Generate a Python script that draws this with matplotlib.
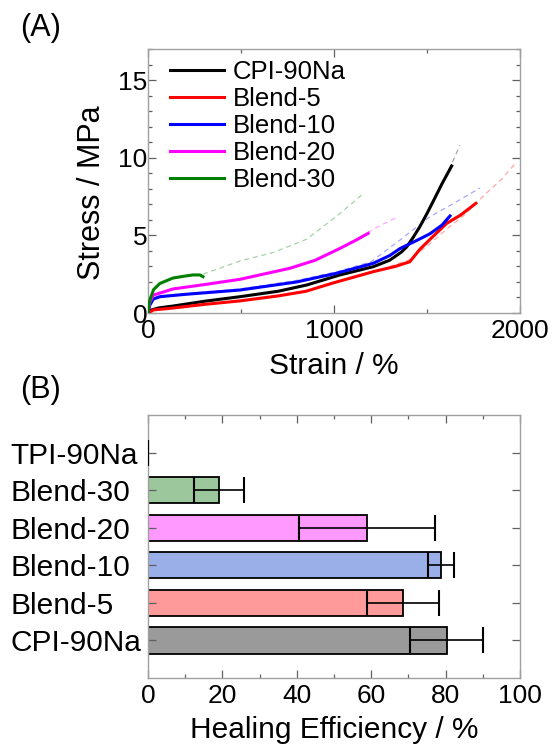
import matplotlib
matplotlib.use("Agg")
import matplotlib.pyplot as plt
from matplotlib.ticker import MultipleLocator
import numpy as np

plt.rcParams['font.family'] = ['Liberation Sans', 'DejaVu Sans']

# ---------------- Panel A data: stress-strain curves ----------------
series_names = ["CPI-90Na", "Blend-5", "Blend-10", "Blend-20", "Blend-30"]
series_colors = ["#000000", "#ff0000", "#0000ff", "#ff00ff", "#008000"]

cpi_strain = [0, 20, 60, 136, 300, 495, 700, 853, 1032, 1211, 1300, 1360, 1391, 1425, 1462, 1500, 1534, 1580, 1633]
cpi_stress = [0, 0.2, 0.33, 0.45, 0.75, 1.05, 1.4, 1.8, 2.45, 2.98, 3.4, 3.9, 4.25, 4.85, 5.56, 6.4, 7.2, 8.3, 9.47]
b5_strain = [0, 30, 135, 300, 495, 700, 850, 1000, 1211, 1330, 1408, 1462, 1530, 1606, 1680, 1763]
b5_stress = [0, 0.2, 0.32, 0.55, 0.78, 1.1, 1.4, 1.95, 2.66, 3.0, 3.3, 4.1, 4.9, 5.77, 6.3, 7.06]
b10_strain = [0, 10, 29, 65, 200, 495, 800, 1014, 1211, 1300, 1355, 1450, 1516, 1580, 1624]
b10_stress = [0, 0.5, 0.9, 1.05, 1.2, 1.48, 2.0, 2.56, 3.2, 3.7, 4.15, 4.7, 5.1, 5.65, 6.25]
b20_strain = [0, 10, 29, 135, 315, 495, 763, 900, 1032, 1120, 1184]
b20_stress = [0, 0.7, 1.15, 1.55, 1.85, 2.17, 2.88, 3.4, 4.16, 4.7, 5.13]
b30_strain = [0, 5, 11, 30, 64, 134, 200, 242, 280, 296]
b30_stress = [0, 0.5, 0.84, 1.5, 1.9, 2.25, 2.38, 2.45, 2.45, 2.34]

# dashed (reference / original) curves
cpi_d_strain = [1391, 1462, 1534, 1580, 1633, 1677]
cpi_d_stress = [4.27, 5.56, 7.28, 8.3, 9.6, 10.8]
b5_d_strain = [1300, 1400, 1500, 1606, 1700, 1800, 1900, 1980]
b5_d_stress = [3.0, 3.4, 4.3, 5.4, 6.3, 7.5, 8.6, 9.7]
b10_d_strain = [0, 10, 29, 65, 200, 495, 800, 1014, 1200, 1355, 1516, 1650, 1785]
b10_d_stress = [0, 0.55, 0.95, 1.1, 1.25, 1.55, 2.1, 2.65, 3.3, 4.7, 6.2, 7.1, 8.05]
b20_d_strain = [1100, 1184, 1260, 1346]
b20_d_stress = [4.6, 5.2, 5.7, 6.2]
b30_d_strain = [296, 495, 674, 853, 1032, 1149]
b30_d_stress = [2.5, 3.35, 3.9, 4.75, 6.4, 7.6]

solid = [(cpi_strain, cpi_stress), (b5_strain, b5_stress), (b10_strain, b10_stress),
         (b20_strain, b20_stress), (b30_strain, b30_stress)]
dashed = [(cpi_d_strain, cpi_d_stress), (b5_d_strain, b5_d_stress), (b10_d_strain, b10_d_stress),
          (b20_d_strain, b20_d_stress), (b30_d_strain, b30_d_stress)]

# ---------------- Panel B data: healing efficiency ----------------
categories = ["CPI-90Na", "Blend-5", "Blend-10", "Blend-20", "Blend-30", "TPI-90Na"]
efficiency = [80.3, 68.6, 78.9, 58.9, 19.2, 0.0]
eff_error = [9.8, 9.6, 3.5, 18.3, 6.7, 0.0]
bar_colors = ["#9a9a9a", "#ff9a9a", "#9aaee8", "#ff99ff", "#9cc69c", "#ffffff"]

TICK_FS = 19
LABEL_FS = 21.5
LEG_FS = 18.5
SPINE = "#a0a0a0"

fig = plt.figure(figsize=(5.54, 7.44), dpi=100)

# ---- Panel A ----
axA = fig.add_axes([0.267, 0.5793, 0.6715, 0.3548])
for (xd, yd), c in zip(dashed, series_colors):
    axA.plot(xd, yd, color=c, lw=0.9, ls=(0, (4, 3)), alpha=0.35, zorder=2)
for (xs, ys), c, n in zip(solid, series_colors, series_names):
    axA.plot(xs, ys, color=c, lw=2.2, label=n, zorder=3)

axA.set_xlim(0, 2000)
axA.set_ylim(0, 17)
axA.xaxis.set_major_locator(MultipleLocator(1000))
axA.xaxis.set_minor_locator(MultipleLocator(500))
axA.yaxis.set_major_locator(MultipleLocator(5))
axA.yaxis.set_minor_locator(MultipleLocator(1))
axA.set_xlabel("Strain / %", fontsize=LABEL_FS, labelpad=7)
axA.set_ylabel("Stress / MPa", fontsize=22, labelpad=8)
axA.yaxis.label.set_y(0.455)
leg = axA.legend(loc="upper left", bbox_to_anchor=(0.06, 0.96), frameon=False,
                 fontsize=LEG_FS, handlelength=2.1, handletextpad=0.35,
                 labelspacing=0.12, borderpad=0, borderaxespad=0)

# ---- Panel B ----
axB = fig.add_axes([0.267, 0.0887, 0.6715, 0.3535])
ypos = np.arange(len(categories))
axB.barh(ypos, efficiency, height=0.7, color=bar_colors, edgecolor="black",
         linewidth=1.3, zorder=1)
axB.errorbar(efficiency, ypos, xerr=eff_error, fmt="none", ecolor="black",
             elinewidth=1.2, capsize=9.4, capthick=1.5, zorder=4)
axB.set_xlim(0, 100)
axB.set_ylim(-1, 6)
axB.set_yticks(ypos)
axB.set_yticklabels(categories, fontsize=LABEL_FS, ha="left")
axB.xaxis.set_major_locator(MultipleLocator(20))
axB.xaxis.set_minor_locator(MultipleLocator(10))
axB.set_xlabel("Healing Efficiency / %", fontsize=LABEL_FS, labelpad=6)

for ax in (axA, axB):
    for s in ax.spines.values():
        s.set_color(SPINE)
        s.set_linewidth(1.0)
    ax.tick_params(which="both", direction="in", top=True, right=True,
                   color="#606060", width=0.9)
    ax.tick_params(axis="x", labelsize=TICK_FS)
    ax.tick_params(which="major", length=6, pad=4)
    ax.tick_params(which="minor", length=3)
axA.tick_params(axis="y", labelsize=TICK_FS, pad=0.5)
# left-aligned category labels starting ~10 px from the figure edge
axB.tick_params(axis="y", which="major", length=6, pad=99)

fig.text(0.036, 0.962, "(A)", fontsize=22, va="center", ha="left")
fig.text(0.036, 0.476, "(B)", fontsize=22, va="center", ha="left")

fig.savefig("out.png", dpi=100)
